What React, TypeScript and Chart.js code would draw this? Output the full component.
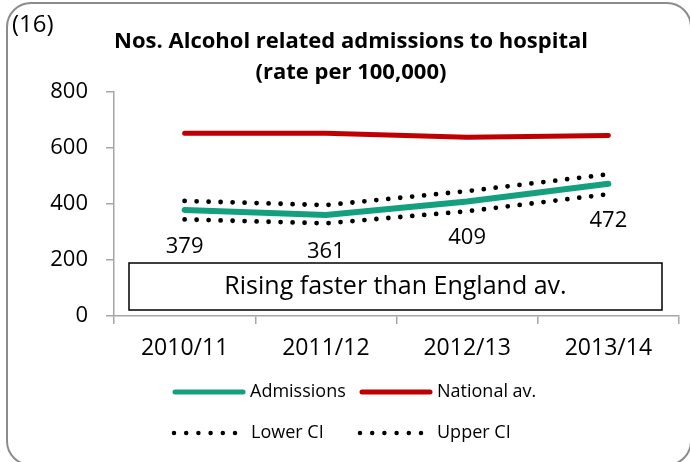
import React, { useEffect, useRef } from "react";
import { Chart, registerables } from "chart.js";
Chart.register(...registerables);

const categories = ["2010/11", "2011/12", "2012/13", "2013/14"];
const admissions = [379, 361, 409, 472];
const nationalAv = [653, 653, 638, 645];
const lowerCI = [345, 331, 374, 435];
const upperCI = [411, 396, 446, 506];
const yMin = 0;
const yMax = 800;
const yStep = 200;
const titleLines = ["Nos. Alcohol related admissions to hospital", "(rate per 100,000)"];
const chartNumber = "(16)";
const noteText = "Rising faster than England av.";
const seriesNames = ["Admissions", "National av.", "Lower CI", "Upper CI"];

const FONT = "'Open Sans', 'Noto Sans', sans-serif";
const GREEN = "#14a07e";
const RED = "#c00000";
const AXIS = "#a6a6a6";

export default function App() {
  const ref = useRef<HTMLCanvasElement | null>(null);
  useEffect(() => {
    document.body.style.margin = "0";
    const canvas = ref.current;
    if (!canvas) return;

    const decor = {
      id: "decor",
      beforeDraw(chart: any) {
        const ctx = chart.ctx;
        ctx.save();
        ctx.fillStyle = "#ffffff";
        ctx.fillRect(0, 0, chart.width, chart.height);
        ctx.strokeStyle = "#8c8c8c";
        ctx.lineWidth = 2;
        ctx.beginPath();
        (ctx as any).roundRect(7, 3, 684, 462, 24);
        ctx.stroke();
        // chart number
        ctx.fillStyle = "#000";
        ctx.font = `24px ${FONT}`;
        ctx.textAlign = "left";
        ctx.textBaseline = "alphabetic";
        ctx.fillText(chartNumber, 12, 32);
        // title
        ctx.font = `bold 22px ${FONT}`;
        ctx.textAlign = "center";
        ctx.fillText(titleLines[0], 351, 48);
        ctx.fillText(titleLines[1], 351, 79);
        ctx.restore();
      },
      afterDatasetsDraw(chart: any) {
        const ctx = chart.ctx;
        ctx.save();
        // data labels for admissions
        const meta = chart.getDatasetMeta(0);
        ctx.fillStyle = "#000";
        ctx.font = `22px ${FONT}`;
        ctx.textAlign = "center";
        ctx.textBaseline = "middle";
        meta.data.forEach((pt: any, i: number) => {
          ctx.fillText(String(admissions[i]), pt.x, pt.y + 36.5);
        });
        // note box
        ctx.fillStyle = "#fff";
        ctx.fillRect(129, 263, 533, 47);
        ctx.strokeStyle = "#000";
        ctx.lineWidth = 1.5;
        ctx.strokeRect(129, 263, 533, 47);
        ctx.fillStyle = "#000";
        ctx.font = `25px ${FONT}`;
        ctx.fillText(noteText, 395.5, 287);
        // legend
        const items = [
          { x: 173, y: 392, ds: 0 },
          { x: 360, y: 392, ds: 1 },
          { x: 174, y: 433, ds: 2 },
          { x: 360, y: 433, ds: 3 },
        ];
        ctx.font = `18px ${FONT}`;
        ctx.textAlign = "left";
        items.forEach((it) => {
          const ds = chart.data.datasets[it.ds];
          ctx.beginPath();
          ctx.strokeStyle = ds.borderColor;
          if (it.ds >= 2) {
            ctx.lineWidth = 4.5;
            ctx.lineCap = "round";
            ctx.setLineDash([0, 12.2]);
            ctx.moveTo(it.x, it.y);
            ctx.lineTo(it.x + 62, it.y);
          } else {
            ctx.lineWidth = 5;
            ctx.lineCap = "round";
            ctx.setLineDash([]);
            ctx.moveTo(it.x + 2, it.y);
            ctx.lineTo(it.x + 70, it.y);
          }
          ctx.stroke();
          ctx.setLineDash([]);
          ctx.fillStyle = "#000";
          ctx.fillText(ds.label, it.x + 77, it.y);
        });
        ctx.restore();
      },
    };

    const chart = new Chart(canvas, {
      type: "line",
      data: {
        labels: categories,
        datasets: [
          {
            label: seriesNames[0],
            data: admissions,
            borderColor: GREEN,
            borderWidth: 6,
            pointRadius: 0,
            borderCapStyle: "round",
            order: 1,
          },
          {
            label: seriesNames[1],
            data: nationalAv,
            borderColor: RED,
            borderWidth: 5,
            pointRadius: 0,
            borderCapStyle: "round",
            order: 0,
          },
          {
            label: seriesNames[2],
            data: lowerCI,
            borderColor: "#000",
            borderWidth: 4.8,
            borderDash: [0, 12],
            borderCapStyle: "round",
            pointRadius: 0,
            order: 2,
          },
          {
            label: seriesNames[3],
            data: upperCI,
            borderColor: "#000",
            borderWidth: 4.8,
            borderDash: [0, 12],
            borderCapStyle: "round",
            pointRadius: 0,
            order: 3,
          },
        ],
      },
      options: {
        animation: false,
        responsive: false,
        devicePixelRatio: 1,
        layout: { padding: { top: 92, left: 0, right: 11, bottom: 86 } },
        plugins: {
          legend: { display: false },
          title: { display: false },
          tooltip: { enabled: false },
        },
        scales: {
          x: {
            offset: true,
            grid: {
              offset: true,
              drawOnChartArea: false,
              drawTicks: true,
              tickLength: 8,
              color: AXIS,
              lineWidth: 1.5,
            },
            border: { display: true, color: AXIS, width: 1.5 },
            ticks: {
              color: "#000",
              font: { family: FONT, size: 23 },
              padding: 11,
              maxRotation: 0,
            },
            afterFit: (s: any) => {
              s.height = 60;
            },
          },
          y: {
            min: yMin,
            max: yMax,
            grid: {
              drawOnChartArea: false,
              drawTicks: true,
              tickLength: 8,
              color: AXIS,
              lineWidth: 1.5,
            },
            border: { display: true, color: AXIS, width: 1.5 },
            ticks: {
              stepSize: yStep,
              color: "#000",
              font: { family: FONT, size: 22 },
              padding: 18,
            },
            afterFit: (s: any) => {
              s.width = 114;
            },
          },
        },
      },
      plugins: [decor],
    });
    return () => chart.destroy();
  }, []);

  return (
    <div style={{ width: 690, height: 462 }}>
      <canvas ref={ref} width={690} height={462} style={{ display: "block" }} />
    </div>
  );
}
